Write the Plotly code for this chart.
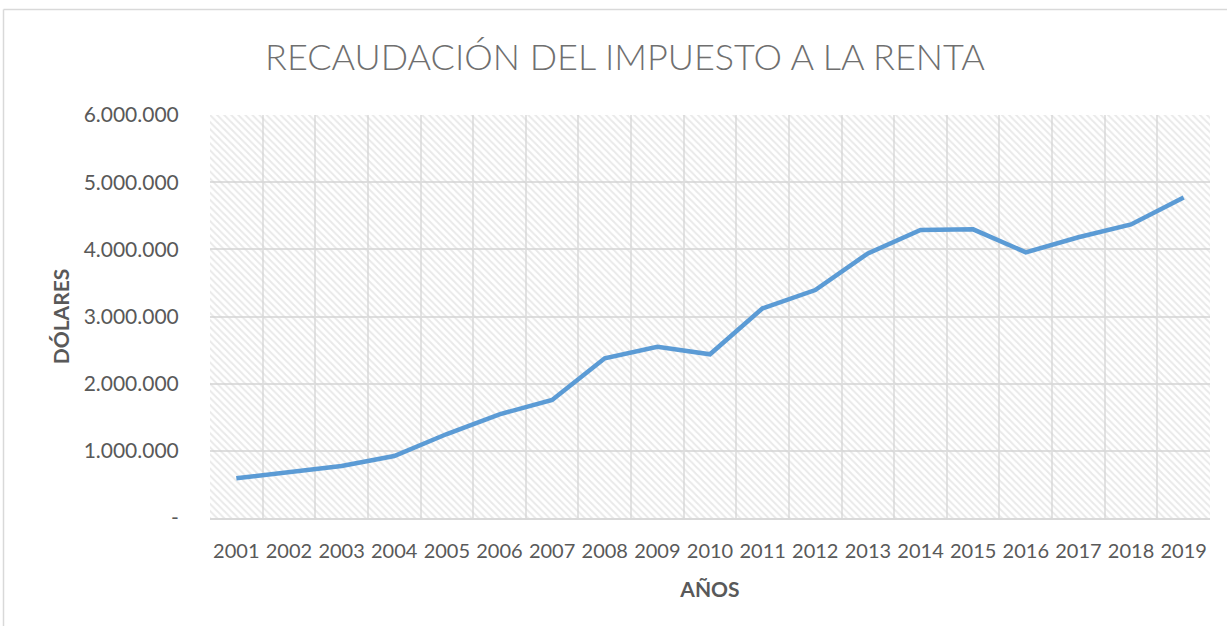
import plotly.graph_objects as go

years = ["2001", "2002", "2003", "2004", "2005", "2006", "2007", "2008", "2009", "2010",
         "2011", "2012", "2013", "2014", "2015", "2016", "2017", "2018", "2019"]
recaudacion = [591000, 675000, 774000, 923000, 1250000, 1544000, 1757000, 2378000, 2550000, 2437000,
               3122000, 3394000, 3940000, 4288000, 4298000, 3956000, 4180000, 4370000, 4770000]
y_tickvals = [0, 1000000, 2000000, 3000000, 4000000, 5000000, 6000000]
y_ticktext = ["-", "1.000.000", "2.000.000", "3.000.000", "4.000.000", "5.000.000", "6.000.000"]
y_max = max(y_tickvals)

W, H = 1227, 626
L, R, T, B = 210, 17, 115, 108

GRID = "#d9d9d9"
TXT = "#595959"

fig = go.Figure()

# hatched plot-area background (one full-height cell per category)
fig.add_trace(go.Bar(
    x=years, y=[y_max] * len(years), width=1,
    marker=dict(color="rgba(0,0,0,0)", line=dict(width=0),
                pattern=dict(shape="\\", fgcolor="#d4d4d4", bgcolor="rgba(0,0,0,0)",
                             size=5, solidity=0.4, fillmode="overlay")),
    hoverinfo="skip", showlegend=False,
))

fig.add_trace(go.Scatter(
    x=years, y=recaudacion, mode="lines",
    line=dict(color="#5b9bd5", width=4.5),
    showlegend=False, name="Recaudación",
))

px_to_paper_x = lambda p: (p - L) / (W - L - R)
px_to_paper_y = lambda p: (H - B - p) / (H - T - B)

# outer chart border (top and left edges visible)
fig.add_shape(type="line", xref="paper", yref="paper",
              x0=px_to_paper_x(3.5), x1=px_to_paper_x(W + 5),
              y0=px_to_paper_y(9.5), y1=px_to_paper_y(9.5),
              line=dict(color=GRID, width=1.5))
fig.add_shape(type="line", xref="paper", yref="paper",
              x0=px_to_paper_x(3.5), x1=px_to_paper_x(3.5),
              y0=px_to_paper_y(9.5), y1=px_to_paper_y(H + 5),
              line=dict(color=GRID, width=1.5))

fig.update_layout(
    width=W, height=H,
    margin=dict(l=L, r=R, t=T, b=B, autoexpand=False),
    paper_bgcolor="white", plot_bgcolor="white",
    bargap=0,
    title=dict(text="RECAUDACIÓN DEL IMPUESTO A LA RENTA",
               x=625 / W, xanchor="center", xref="container",
               y=1 - 57 / H, yanchor="middle", yref="container",
               font=dict(family="Lato", size=36, color="#6f6f6f", weight=300)),
    font=dict(family="Lato", color=TXT),
    xaxis=dict(
        type="category", tickson="boundaries",
        showgrid=True, gridcolor="#e3e3e3", gridwidth=1.5,
        showline=True, linecolor=GRID, linewidth=2,
        ticks="", ticklabelstandoff=14,
        tickangle=0, tickfont=dict(size=20, color=TXT),
        range=[-0.5, len(years) - 0.5],
        title=dict(text="AÑOS", font=dict(size=21, color=TXT, weight="bold"), standoff=21),
    ),
    yaxis=dict(
        range=[0, y_max],
        tickvals=y_tickvals, ticktext=y_ticktext,
        showgrid=True, gridcolor="#dedede", gridwidth=1.5,
        zeroline=False, showline=False,
        ticks="outside", ticklen=26, tickcolor="rgba(0,0,0,0)",
        tickfont=dict(size=21, color=TXT),
        title=dict(text="DÓLARES", font=dict(size=21, color=TXT, weight="bold"), standoff=8),
    ),
)

fig.write_html("out.html", config={"displayModeBar": False},
               post_script="document.body.style.margin='0';")
